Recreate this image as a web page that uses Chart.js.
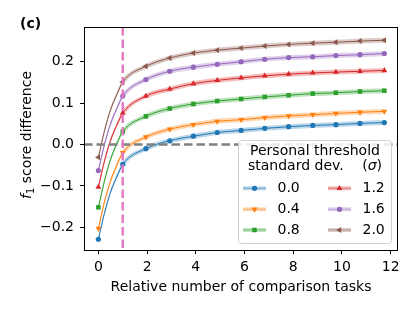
<!DOCTYPE html>
<html>
<head>
<meta charset="utf-8">
<title>f1 score difference</title>
<script src="https://cdn.jsdelivr.net/npm/chart.js@4"></script>
<style>
  html, body { margin: 0; padding: 0; background: #fff; }
</style>
</head>
<body>
<canvas id="chart" width="415" height="312"></canvas>
<script>
// relative number of comparison tasks (markers sit on every point except the 3 in-between ones)
const xs = [0, 0.25, 0.5, 0.75, 1, 1.95, 2.93, 3.9, 4.88, 5.86, 6.83, 7.81, 8.8, 9.75, 10.74, 11.74];
const noMarker = [0.25, 0.5, 0.75];

const sigma00 = [-0.229, -0.166, -0.115, -0.079, -0.048, -0.010, 0.009, 0.020, 0.029, 0.034, 0.039, 0.043, 0.046, 0.048, 0.051, 0.053];
const sigma04 = [-0.203, -0.139, -0.088, -0.051, -0.020, 0.018, 0.037, 0.048, 0.056, 0.060, 0.065, 0.069, 0.072, 0.075, 0.078, 0.080];
const sigma08 = [-0.152, -0.088, -0.036, 0.001, 0.031, 0.068, 0.087, 0.098, 0.105, 0.110, 0.115, 0.119, 0.123, 0.125, 0.128, 0.130];
const sigma12 = [-0.103, -0.040, 0.010, 0.046, 0.076, 0.117, 0.134, 0.147, 0.155, 0.161, 0.166, 0.170, 0.173, 0.175, 0.177, 0.179];
const sigma16 = [-0.063, 0.000, 0.050, 0.086, 0.117, 0.157, 0.177, 0.187, 0.194, 0.200, 0.206, 0.210, 0.212, 0.215, 0.217, 0.220];
const sigma20 = [-0.031, 0.033, 0.084, 0.120, 0.151, 0.189, 0.209, 0.221, 0.228, 0.233, 0.238, 0.242, 0.245, 0.247, 0.250, 0.252];

const sigmaLabels = ['0.0', '0.4', '0.8', '1.2', '1.6', '2.0'];
const xTicks = [0, 2, 4, 6, 8, 10, 12];
const yTicks = [-0.2, -0.1, 0, 0.1, 0.2];
const yTickLabels = ['\u22120.2', '\u22120.1', '0.0', '0.1', '0.2'];
const refX = 1;
const refY = 0;

const series = [sigma00, sigma04, sigma08, sigma12, sigma16, sigma20];
const colors = ['31,119,180', '255,127,14', '44,160,44', '214,39,40', '148,103,189', '140,86,75'];
const markers = [
  { style: 'circle', rot: 0, r: 2.6 },
  { style: 'triangle', rot: 180, r: 3.4 },
  { style: 'rect', rot: 0, r: 3.2 },
  { style: 'triangle', rot: 0, r: 3.4 },
  { style: 'circle', rot: 0, r: 2.6 },
  { style: 'triangle', rot: -90, r: 3.4 }
];

const FONT = '"DejaVu Sans"';
const FS = 14;
Chart.defaults.font.family = FONT;
Chart.defaults.font.size = FS;
Chart.defaults.color = '#000';

// band is a vertical spread, so it looks thinner where the curve is steep
function bandWidth(seg) {
  const dx = seg.p1.x - seg.p0.x, dy = seg.p1.y - seg.p0.y;
  return Math.max(1.2, 5 * Math.abs(dx) / Math.hypot(dx, dy));
}

const datasets = [];
series.forEach((vals, i) => {
  const pts = xs.map((x, j) => ({ x: x, y: vals[j] }));
  const c = colors[i];
  datasets.push({
    label: sigmaLabels[i] + ' band',
    data: pts,
    borderColor: 'rgba(' + c + ',0.3)',
    borderWidth: 5,
    segment: { borderWidth: bandWidth },
    pointRadius: 0,
    cubicInterpolationMode: 'monotone',
    order: 100 - 2 * i
  });
  datasets.push({
    label: sigmaLabels[i],
    data: pts,
    borderColor: 'rgb(' + c + ')',
    backgroundColor: 'rgb(' + c + ')',
    borderWidth: 1,
    pointStyle: markers[i].style,
    pointRotation: markers[i].rot,
    pointRadius: ctx => noMarker.includes(xs[ctx.dataIndex]) ? 0 : markers[i].r,
    pointBorderWidth: 0,
    pointBackgroundColor: 'rgb(' + c + ')',
    cubicInterpolationMode: 'monotone',
    order: 99 - 2 * i
  });
});

const decorations = {
  id: 'decorations',
  afterDatasetsDraw(chart) {
    const { ctx, chartArea: a, scales } = chart;
    ctx.save();
    ctx.lineWidth = 2.4;
    ctx.setLineDash([8.5, 4]);
    const py = scales.y.getPixelForValue(refY);
    ctx.strokeStyle = '#808080';
    ctx.beginPath(); ctx.moveTo(a.left, py); ctx.lineTo(a.right, py); ctx.stroke();
    const px = scales.x.getPixelForValue(refX);
    ctx.strokeStyle = '#e377c2';
    ctx.beginPath(); ctx.moveTo(px, a.top); ctx.lineTo(px, a.bottom); ctx.stroke();
    ctx.restore();
  },
  afterDraw(chart) {
    const { ctx, chartArea: a } = chart;
    ctx.save();
    // frame
    ctx.strokeStyle = '#000';
    ctx.lineWidth = 1;
    ctx.strokeRect(a.left + 0.5, a.top + 0.5, a.right - a.left - 1, a.bottom - a.top);

    // panel tag + axis titles
    ctx.fillStyle = '#000';
    ctx.textBaseline = 'middle';
    ctx.textAlign = 'left';
    ctx.font = 'bold ' + FS + 'px ' + FONT;
    ctx.fillText('(c)', 20, 24);
    ctx.textAlign = 'center';
    ctx.font = FS + 'px ' + FONT;
    ctx.fillText('Relative number of comparison tasks', 241, 287);

    ctx.save();
    ctx.translate(26, 135);
    ctx.rotate(-Math.PI / 2);
    ctx.textAlign = 'left';
    ctx.textBaseline = 'alphabetic';
    const fItal = 'italic ' + FS + 'px ' + FONT, fSub = '10px ' + FONT, fNorm = FS + 'px ' + FONT;
    ctx.font = fItal; const w1 = ctx.measureText('f').width;
    ctx.font = fSub; const w2 = ctx.measureText('1').width;
    ctx.font = fNorm; const w3 = ctx.measureText(' score difference').width;
    const x0 = -(w1 + w2 + w3) / 2;
    ctx.font = fItal; ctx.fillText('f', x0, 5);
    ctx.font = fSub; ctx.fillText('1', x0 + w1, 8);
    ctx.font = fNorm; ctx.fillText(' score difference', x0 + w1 + w2, 5);
    ctx.restore();

    // legend
    ctx.setLineDash([]);
    ctx.fillStyle = 'rgba(255,255,255,0.85)';
    ctx.strokeStyle = '#cfcfcf';
    ctx.beginPath();
    ctx.roundRect(238.5, 140.5, 153, 103, 3);
    ctx.fill();
    ctx.stroke();

    ctx.fillStyle = '#000';
    ctx.font = FS + 'px ' + FONT;
    ctx.textBaseline = 'middle';
    ctx.textAlign = 'center';
    ctx.fillText('Personal threshold', 315, 151);
    ctx.textAlign = 'left';
    ctx.fillText('standard dev.', 248, 166);
    ctx.textAlign = 'right';
    ctx.fillText(')', 382, 166);
    const wp = ctx.measureText(')').width;
    ctx.font = 'italic ' + FS + 'px ' + FONT;
    ctx.fillText('\u03c3', 382 - wp, 166);
    const ws = ctx.measureText('\u03c3').width;
    ctx.font = FS + 'px ' + FONT;
    ctx.fillText('(', 382 - wp - ws, 166);

    const rows = [188.3, 209.3, 230];
    sigmaLabels.forEach((lab, i) => {
      const col = i < 3 ? 0 : 1;
      const cy = rows[i % 3];
      const lx = col ? 328 : 243;
      const c = colors[i];
      ctx.lineWidth = 4;
      ctx.strokeStyle = 'rgba(' + c + ',0.3)';
      ctx.beginPath(); ctx.moveTo(lx, cy); ctx.lineTo(lx + 23, cy); ctx.stroke();
      ctx.lineWidth = 1;
      ctx.strokeStyle = 'rgba(' + c + ',0.45)';
      ctx.beginPath(); ctx.moveTo(lx, cy); ctx.lineTo(lx + 23, cy); ctx.stroke();
      ctx.fillStyle = 'rgb(' + c + ')';
      Chart.helpers.drawPoint(ctx, { pointStyle: markers[i].style, rotation: markers[i].rot, radius: markers[i].r, borderWidth: 0 }, lx + 11.5, cy);
      ctx.fillStyle = '#000';
      ctx.textAlign = 'left';
      ctx.fillText(lab, col ? 362.5 : 277.5, cy);
    });
    ctx.restore();
  }
};

new Chart(document.getElementById('chart'), {
  type: 'line',
  data: { datasets: datasets },
  options: {
    responsive: false,
    animation: false,
    layout: { padding: { left: 0, top: 27, right: 17, bottom: 0 } },
    plugins: { legend: { display: false }, tooltip: { enabled: false } },
    scales: {
      x: {
        type: 'linear',
        min: -0.59,
        max: 12.3,
        afterBuildTicks: s => { s.ticks = xTicks.map(v => ({ value: v })); },
        afterFit: s => { s.height = 62; },
        ticks: { autoSkip: false, maxRotation: 0, padding: 5, callback: v => String(v) },
        grid: { drawOnChartArea: false, color: '#000', tickLength: 4 },
        border: { display: false }
      },
      y: {
        min: -0.255,
        max: 0.284,
        afterBuildTicks: s => { s.ticks = yTicks.map(v => ({ value: v })); },
        afterFit: s => { s.width = 84; },
        ticks: { padding: 6, callback: (v, i) => yTickLabels[i] },
        grid: { drawOnChartArea: false, color: '#000', tickLength: 4 },
        border: { display: false }
      }
    }
  },
  plugins: [decorations]
});
</script>
</body>
</html>
